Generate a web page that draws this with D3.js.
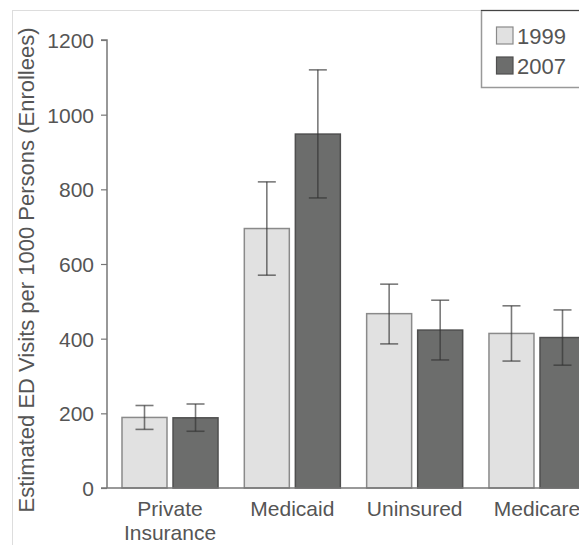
<!DOCTYPE html>
<html>
<head>
<meta charset="utf-8">
<script src="https://cdnjs.cloudflare.com/ajax/libs/d3/7.8.5/d3.min.js"></script>
<style>
  body { margin: 0; background: #fff; overflow: hidden; }
  text { font-family: "Liberation Sans", Arial, sans-serif; fill: #555; }
</style>
</head>
<body>
<div id="chart"></div>
<script>
// Data
const categories = ["Private\nInsurance", "Medicaid", "Uninsured", "Medicare"];
const years = ["1999", "2007"];
const values1999 = [189, 695, 467, 414];
const low1999 = [157, 570, 386, 340];
const high1999 = [221, 820, 546, 488];
const values2007 = [188, 948, 423, 403];
const low2007 = [152, 777, 343, 329];
const high2007 = [225, 1120, 503, 477];
const yTicks = [0, 200, 400, 600, 800, 1000, 1200];

const fills = { "1999": "#e1e1e1", "2007": "#6c6d6c" };
const strokes = { "1999": "#8a8a8a", "2007": "#4f4f4f" };

const width = 579, height = 545;

const svg = d3.select("#chart").append("svg")
    .attr("width", width)
    .attr("height", height);

// thin frame of the original figure
svg.append("line").attr("x1", 12).attr("x2", 482).attr("y1", 10.5).attr("y2", 10.5)
    .attr("stroke", "#ddd").attr("stroke-width", 1);
svg.append("line").attr("x1", 12.5).attr("x2", 12.5).attr("y1", 10).attr("y2", height)
    .attr("stroke", "#ddd").attr("stroke-width", 1);

const x0 = d3.scaleBand()
    .domain(categories)
    .range([107, 600])
    .paddingInner(0.215)
    .paddingOuter(0.1226);

const x1 = d3.scaleBand()
    .domain(years)
    .range([0, x0.bandwidth()])
    .paddingInner(0.118);

const y = d3.scaleLinear()
    .domain([0, 1200])
    .range([488, 40]);

// rows for drawing
const rows = [];
categories.forEach((c, i) => {
    rows.push({ cat: c, year: "1999", value: values1999[i], low: low1999[i], high: high1999[i] });
    rows.push({ cat: c, year: "2007", value: values2007[i], low: low2007[i], high: high2007[i] });
});

// y axis
const yAxis = svg.append("g")
    .attr("transform", "translate(107,0)")
    .call(d3.axisLeft(y).tickValues(yTicks).tickSize(6).tickPadding(7).tickFormat(d3.format("d")));
yAxis.select(".domain").attr("stroke", "#777").attr("stroke-width", 1.5)
    .attr("d", `M-6,${y(1200)}H0V${y(0)}`);
yAxis.selectAll(".tick line").attr("stroke", "#777").attr("stroke-width", 1.2);
yAxis.selectAll(".tick text")
    .style("font-size", "21px")
    .attr("fill", "#555")
    .attr("dy", "0.35em");

// bars
svg.append("g").selectAll("rect")
    .data(rows)
    .enter().append("rect")
    .attr("x", d => x0(d.cat) + x1(d.year))
    .attr("y", d => y(d.value))
    .attr("width", x1.bandwidth())
    .attr("height", d => y(0) - y(d.value))
    .attr("fill", d => fills[d.year])
    .attr("stroke", d => strokes[d.year])
    .attr("stroke-width", 1.5);

// x axis baseline
svg.append("line")
    .attr("x1", 101).attr("x2", width)
    .attr("y1", y(0)).attr("y2", y(0))
    .attr("stroke", "#777").attr("stroke-width", 1.5);

// error bars
const err = svg.append("g")
    .attr("stroke", "rgba(50,50,50,0.65)")
    .attr("stroke-width", 1.6)
    .attr("fill", "none");
const capHalf = 9;
rows.forEach(d => {
    const cx = x0(d.cat) + x1(d.year) + x1.bandwidth() / 2;
    err.append("line").attr("x1", cx).attr("x2", cx).attr("y1", y(d.low)).attr("y2", y(d.high));
    err.append("line").attr("x1", cx - capHalf).attr("x2", cx + capHalf).attr("y1", y(d.low)).attr("y2", y(d.low));
    err.append("line").attr("x1", cx - capHalf).attr("x2", cx + capHalf).attr("y1", y(d.high)).attr("y2", y(d.high));
});

// category labels
categories.forEach(c => {
    const t = svg.append("text")
        .attr("x", x0(c) + x0.bandwidth() / 2)
        .attr("y", 516)
        .attr("text-anchor", "middle")
        .style("font-size", "21px");
    c.split("\n").forEach((line, i) => {
        t.append("tspan")
            .attr("x", x0(c) + x0.bandwidth() / 2)
            .attr("dy", i === 0 ? 0 : 23.5)
            .text(line);
    });
});

// y axis title
svg.append("text")
    .attr("transform", "translate(34,270) rotate(-90)")
    .attr("text-anchor", "middle")
    .style("font-size", "22px")
    .text("Estimated ED Visits per 1000 Persons (Enrollees)");

// legend
const legend = svg.append("g");
legend.append("rect")
    .attr("x", 481.5).attr("y", 10.5)
    .attr("width", 120).attr("height", 77)
    .attr("fill", "#fff")
    .attr("stroke", "#999").attr("stroke-width", 1.5);
legend.append("line")
    .attr("x1", 481).attr("x2", width).attr("y1", 10.5).attr("y2", 10.5)
    .attr("stroke", "#444").attr("stroke-width", 1);
years.forEach((yr, i) => {
    legend.append("rect")
        .attr("x", 496.5).attr("y", 27 + i * 30)
        .attr("width", 16.5).attr("height", 17)
        .attr("fill", fills[yr])
        .attr("stroke", strokes[yr]).attr("stroke-width", 1.2);
    legend.append("text")
        .attr("x", 517).attr("y", 44 + i * 30)
        .style("font-size", "22px")
        .text(yr);
});
</script>
</body>
</html>
